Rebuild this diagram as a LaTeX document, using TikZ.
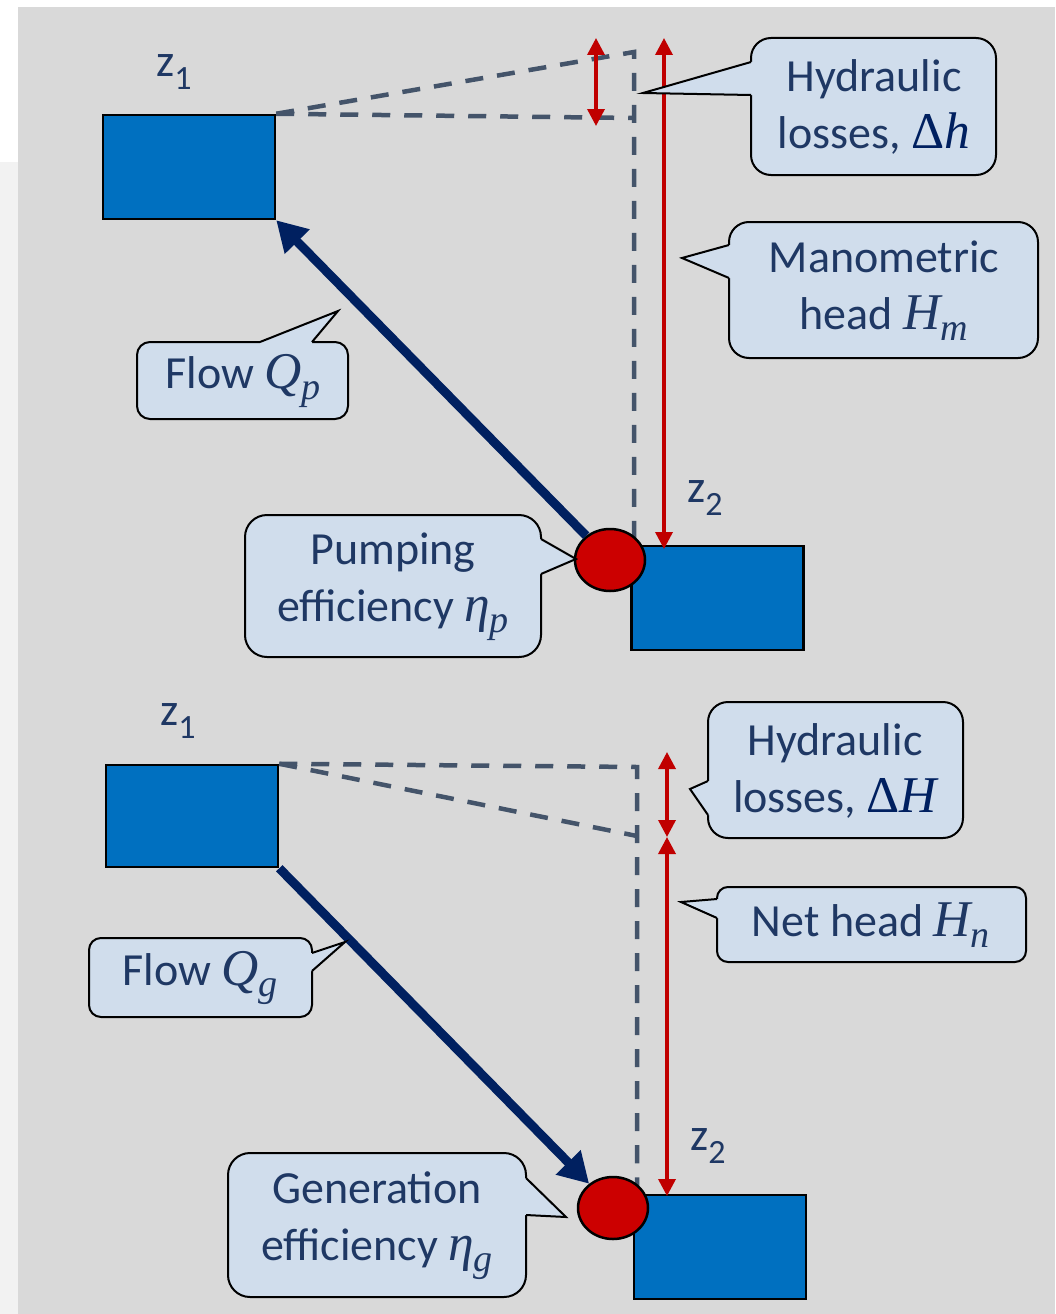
\documentclass[tikz,border=0pt]{standalone}
\usepackage{fontspec}
\setmainfont{Carlito}
\newfontfamily\mvfont{Liberation Serif}[Scale=1.12]
\usetikzlibrary{arrows.meta,shapes.geometric}
\definecolor{bgGrey}{HTML}{D9D9D9}
\definecolor{stripGrey}{HTML}{F2F2F2}
\definecolor{resBlue}{HTML}{0070C0}
\definecolor{pumpRed}{HTML}{CC0000}
\definecolor{headRed}{HTML}{C00000}
\definecolor{dashGrey}{HTML}{44546A}
\definecolor{flowNavy}{HTML}{002060}
\definecolor{txtNavy}{HTML}{1F3864}
\definecolor{coFill}{HTML}{D0DDEC}
\newcommand{\zlab}[1]{z\raisebox{-13pt}{\fontsize{34}{34}\selectfont #1}}
\newcommand{\mv}[2]{{\mvfont\itshape #1}\raisebox{-11pt}{\fontsize{34}{34}\selectfont\mvfont\itshape #2}}
\newcommand{\dl}[1]{{\mvfont\color{flowNavy}\char"0394\itshape #1}}
\begin{document}
\begin{tikzpicture}[x=1pt,y=-1pt,
  reservoir/.style={draw=black,line width=2.5pt,fill=resBlue,minimum width=172pt,minimum height=104pt,inner sep=0pt},
  pumpnode/.style={ellipse,draw=black,line width=2.5pt,fill=pumpRed,minimum width=70pt,minimum height=62pt,inner sep=0pt},
  levelline/.style={dashGrey,line width=4.5pt,dash pattern=on 18pt off 14pt},
  headarrow/.style={headRed,line width=3.5pt,{Triangle[width=17pt,length=17pt]}-{Triangle[width=17pt,length=17pt]}},
  flowarrow/.style={flowNavy,line width=9pt,-{Triangle[width=33pt,length=30pt]}},
  calloutshape/.style={draw=black,line width=2pt,fill=coFill},
  pointerfill/.style={fill=coFill},
  pointerline/.style={draw=black,line width=2pt,line join=miter},
  ctext/.style={text=txtNavy,align=center,font=\fontsize{46}{57}\selectfont,inner sep=0pt},
  zlabel/.style={text=txtNavy,font=\fontsize{46}{57}\selectfont,inner sep=0pt,anchor=base west}
]
% background
\fill[white] (0,0) rectangle (1055,1314);
\fill[stripGrey] (0,162) rectangle (18,1314);
\fill[bgGrey] (18,7) rectangle (1055,1314);
\useasboundingbox (0,0) rectangle (1055,1314);

%================ UPPER (pumping) =================
\node[reservoir] (res1) at (189,167) {};
\node[zlabel] (z1a) at (156,77) {\zlab{1}};
\node[zlabel] (z2a) at (687,502) {\zlab{2}};

\coordinate (tA) at (634,52);
\coordinate (hA) at (634,118);
\coordinate (bA) at (634,545);
\draw[levelline] (res1.north east) -- (hA);
\draw[levelline] (res1.north east) -- (tA) -- (bA);

\node[reservoir] (res2) at (717.5,598) {};
\node[pumpnode] (pump1) at (610,560) {};

\coordinate (sA1) at (596,38);
\coordinate (sA2) at (596,126);
\draw[headarrow] (sA1) -- (sA2);
\coordinate (mA1) at (664,38);
\coordinate (mA2) at (664,549);
\draw[headarrow] (mA1) -- (mA2);

\draw[flowarrow] (pump1) -- (res1.south east);

% callout: Hydraulic losses, Delta h
\draw[calloutshape,rounded corners=20pt] (751,38) rectangle (996,175);
\fill[pointerfill] (755,95) -- (751,95) -- (643,93) -- (751,62) -- (755,62) -- cycle;
\draw[pointerline] (751,95) -- (643,93) -- (751,62);
\node[ctext] (cHL1) at (874,107) {Hydraulic\\losses, \dl{h}};

% callout: Manometric head
\draw[calloutshape,rounded corners=20pt] (729,222) rectangle (1038,358);
\fill[pointerfill] (733,278) -- (729,278) -- (682,258) -- (729,245) -- (733,245) -- cycle;
\draw[pointerline] (729,278) -- (682,258) -- (729,245);
\node[ctext] (cMH) at (884,291) {Manometric\\head \mv{H}{m}};

% callout: Flow Qp
\draw[calloutshape,rounded corners=13pt] (137,342) rectangle (348,419);
\fill[pointerfill] (260,346) -- (260,342) -- (338,311) -- (312,342) -- (312,346) -- cycle;
\draw[pointerline] (260,342) -- (338,311) -- (312,342);
\node[ctext] (cFQp) at (243,381) {Flow \mv{Q}{p}};

% callout: Pumping efficiency
\draw[calloutshape,rounded corners=22pt] (245,515) rectangle (541,657);
\fill[pointerfill] (537,539) -- (541,539) -- (576,559) -- (541,574) -- (537,574) -- cycle;
\draw[pointerline] (541,539) -- (576,559) -- (541,574);
\node[ctext] (cPE) at (393,587) {Pumping\\efficiency \mv{η}{p}};

%================ LOWER (generation) =================
\node[reservoir,minimum height=102pt] (res3) at (192,816) {};
\node[zlabel] (z1b) at (160,725) {\zlab{1}};
\node[zlabel] (z2b) at (690,1150) {\zlab{2}};

\coordinate (hB) at (637,767);
\coordinate (sB) at (637,836);
\coordinate (bB) at (637,1190);
\draw[levelline] (res3.north east) -- (hB) -- (bB);
\draw[levelline] (res3.north east) -- (sB);

\node[reservoir] (res4) at (720,1247) {};
\node[pumpnode] (pump2) at (613,1208) {};

\coordinate (lB1) at (667,752);
\coordinate (lB2) at (667,837);
\coordinate (nB2) at (667,1196);
\draw[headarrow] (lB1) -- (lB2);
\draw[headarrow] (lB2) -- (nB2);

\draw[flowarrow] (res3.south east) -- (pump2);

% callout: Hydraulic losses, Delta H
\draw[calloutshape,rounded corners=20pt] (708,702) rectangle (963,838);
\fill[pointerfill] (712,815) -- (708,815) -- (690,789) -- (708,781) -- (712,781) -- cycle;
\draw[pointerline] (708,815) -- (690,789) -- (708,781);
\node[ctext] (cHL2) at (835,771) {Hydraulic\\losses, \dl{H}};

% callout: Net head
\draw[calloutshape,rounded corners=11pt] (717,887) rectangle (1026,962);
\fill[pointerfill] (721,918) -- (717,918) -- (681,902) -- (717,899) -- (721,899) -- cycle;
\draw[pointerline] (717,918) -- (681,902) -- (717,899);
\node[ctext] (cNH) at (871,925) {Net head \mv{H}{n}};

% callout: Flow Qg
\draw[calloutshape,rounded corners=12pt] (89,938) rectangle (312,1017);
\fill[pointerfill] (308,953) -- (312,953) -- (345,942) -- (312,971) -- (308,971) -- cycle;
\draw[pointerline] (312,953) -- (345,942) -- (312,971);
\node[ctext] (cFQg) at (200,978) {Flow \mv{Q}{g}};

% callout: Generation efficiency
\draw[calloutshape,rounded corners=22pt] (228,1153) rectangle (526,1297);
\fill[pointerfill] (522,1178) -- (526,1178) -- (566,1217) -- (526,1215) -- (522,1215) -- cycle;
\draw[pointerline] (526,1178) -- (566,1217) -- (526,1215);
\node[ctext] (cGE) at (377,1226) {Generation\\efficiency \mv{η}{g}};
\end{tikzpicture}
\end{document}
